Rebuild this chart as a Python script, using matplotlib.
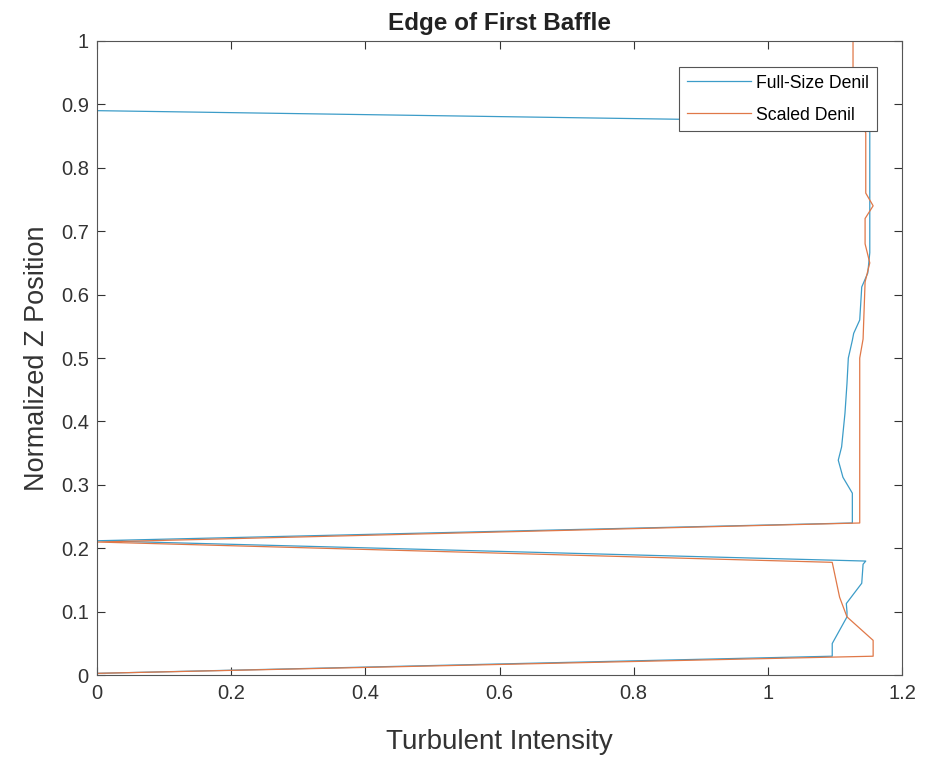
import matplotlib.pyplot as plt

# Turbulent intensity profiles at the edge of the first baffle
full_ti = [0, 1.096, 1.096, 1.118, 1.118, 1.117, 1.14, 1.142, 1.146, 0,
           1.126, 1.126, 1.112, 1.105, 1.11, 1.115, 1.118, 1.12, 1.126, 1.128,
           1.137, 1.14, 1.149, 1.152, 1.152, 0, 0]
full_z = [0.003, 0.03, 0.05, 0.092, 0.10, 0.113, 0.145, 0.175, 0.18, 0.212,
          0.24, 0.287, 0.312, 0.339, 0.36, 0.413, 0.46, 0.50, 0.528, 0.539,
          0.56, 0.612, 0.634, 0.666, 0.872, 0.89, 1.0]

scaled_ti = [0, 1.157, 1.157, 1.118, 1.107, 1.096, 0, 1.137, 1.137, 1.142,
             1.145, 1.152, 1.145, 1.145, 1.157, 1.146, 1.146, 1.127, 1.127]
scaled_z = [0.003, 0.03, 0.055, 0.092, 0.123, 0.178, 0.21, 0.24, 0.50, 0.53,
            0.62, 0.65, 0.68, 0.72, 0.74, 0.76, 0.855, 0.9, 1.0]

plt.rcParams['font.family'] = ['Liberation Sans', 'DejaVu Sans']

fig = plt.figure(figsize=(9.43, 7.57), dpi=100)
ax = fig.add_axes([0.103, 0.108, 0.8535, 0.838])

ax.plot(full_ti, full_z, color='#3c9cc8', lw=0.9, label='Full-Size Denil')
ax.plot(scaled_ti, scaled_z, color='#e07848', lw=0.9, label='Scaled Denil')

ax.set_xlim(0, 1.2)
ax.set_ylim(0, 1)
ax.set_xticks([0, 0.2, 0.4, 0.6, 0.8, 1, 1.2])
ax.set_xticklabels(['0', '0.2', '0.4', '0.6', '0.8', '1', '1.2'])
ax.set_yticks([i / 10 for i in range(11)])
ax.set_yticklabels(['0'] + ['0.%d' % i for i in range(1, 10)] + ['1'])
ax.tick_params(direction='in', top=True, right=True, labelsize=14.5,
               colors='#333333', length=6, width=0.8, pad=6)
for s in ax.spines.values():
    s.set_color('#555555')
    s.set_linewidth(0.8)

ax.set_title('Edge of First Baffle', fontsize=17.5, fontweight='bold', color='#222222', pad=8)
ax.set_xlabel('Turbulent Intensity', fontsize=20, color='#333333', labelpad=19)
ax.set_ylabel('Normalized Z Position', fontsize=19.5, color='#333333', labelpad=8)

leg = ax.legend(loc='upper right', bbox_to_anchor=(0.973, 0.965), fontsize=12.7,
                fancybox=False, edgecolor='#555555', framealpha=1,
                handlelength=3.6, handletextpad=0.3, borderpad=0.45,
                labelspacing=0.85, borderaxespad=0.2)
leg.get_frame().set_linewidth(0.8)

fig.savefig('out.png', dpi=100)
